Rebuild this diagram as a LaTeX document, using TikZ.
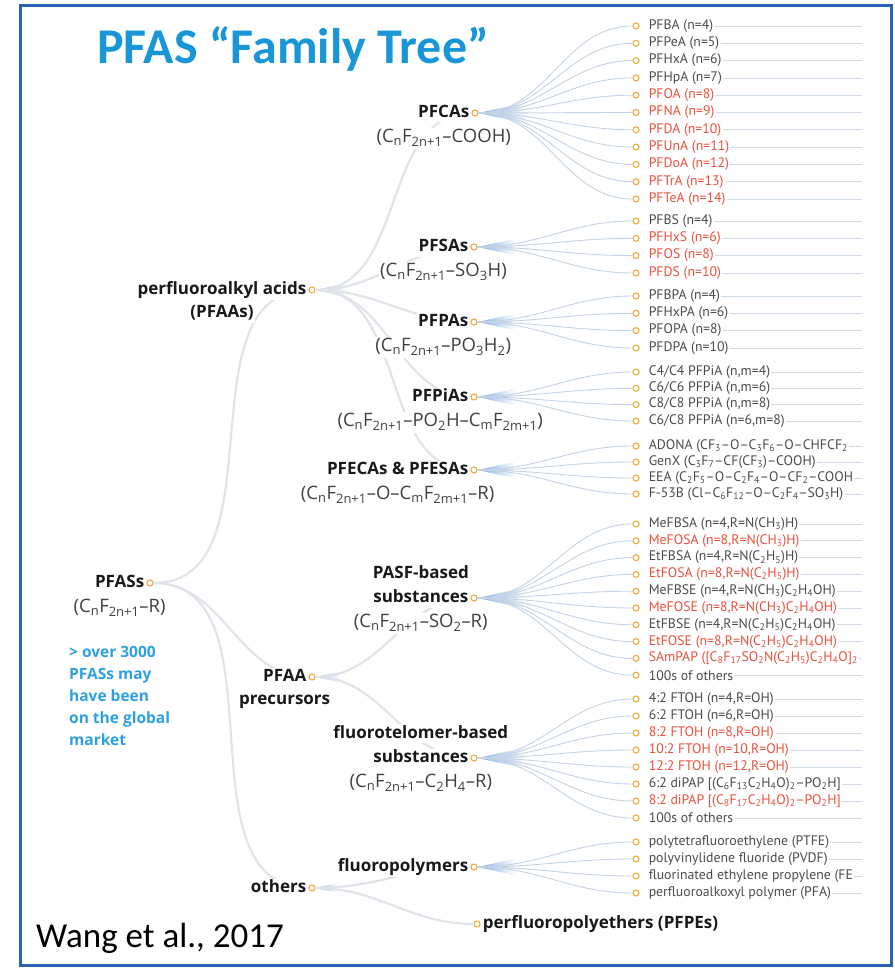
\documentclass[tikz,border=0pt]{standalone}
\usepackage{fontspec}
\setmainfont{PT Sans}
\newfontfamily\calibrifont{Carlito}
\newfontfamily\catfont[Ligatures=TeX]{Open Sans}
\usetikzlibrary{positioning}

\definecolor{titleblue}{RGB}{25,150,215}
\definecolor{frameblue}{RGB}{40,100,180}
\definecolor{blurbblue}{RGB}{45,160,225}
\definecolor{hotred}{RGB}{232,80,60}
\definecolor{leafgrey}{RGB}{75,75,75}
\definecolor{ringorange}{RGB}{240,170,60}
\definecolor{twigblue}{RGB}{195,210,228}
\definecolor{trunkgrey}{RGB}{224,228,234}
\definecolor{fanblue}{RGB}{125,172,228}
\newcommand{\sbs}[1]{\textsubscript{#1}}
\newcommand{\fan}[2]{\shade[left color=fanblue,right color=white] (#1.east) -- ++(#2,-0.22*#2) -- ++(0,0.44*#2) -- cycle;}

\tikzset{
  ring/.style={circle,draw=ringorange,fill=white,line width=1.1pt,inner sep=0pt,minimum size=6pt},
  cat/.style={font=\catfont\bfseries\fontsize{17}{20}\selectfont,text=black!90,fill=white,inner sep=1pt,text height=13pt,text depth=4pt},
  formula/.style={font=\catfont\fontsize{18.5}{22}\selectfont,text=black!75,fill=white,inner sep=1pt,text height=14pt,text depth=5pt},
  leaf/.style={font=\fontsize{13.8}{16}\selectfont,inner sep=1pt,anchor=west},
  blurb/.style={font=\catfont\bfseries\fontsize{15.5}{22}\selectfont,text=blurbblue,align=left,inner sep=0pt},
  twig/.style={draw=twigblue,line width=0.9pt},
  trunk/.style={draw=trunkgrey,line width=2.2pt},
  tail/.style={draw=twigblue!80,line width=0.7pt},
}

\begin{document}
\begin{tikzpicture}[x=1pt,y=-1pt]
  \useasboundingbox (0,0) rectangle (894,968);
  \node[font=\calibrifont\bfseries\fontsize{50}{58}\selectfont,text=titleblue,inner sep=0pt,anchor=base west] (title) at (97,64) {PFAS “Family Tree”};

  % hubs of the tree
  \node[ring] (pfass) at (150,583) {};
  \node[ring] (pfaas) at (312,290) {};
  \node[ring] (pfaa) at (312,677) {};
  \node[ring] (others) at (312,888) {};
  \node[ring] (pfcas) at (475,113) {};
  \node[ring] (pfsas) at (474,247) {};
  \node[ring] (pfpas) at (474,322) {};
  \node[ring] (pfpias) at (474,397) {};
  \node[ring] (pfecas) at (474,470) {};
  \node[ring] (pasf) at (474,598) {};
  \node[ring] (ftoh) at (474,758) {};
  \node[ring] (fpoly) at (474,867) {};
  \node[ring] (pfpes) at (477,924) {};

  \fan{pfcas}{48} \fan{pfsas}{38} \fan{pfpas}{38} \fan{pfpias}{38} \fan{pfecas}{38}
  \fan{pasf}{48} \fan{ftoh}{48} \fan{fpoly}{38} \fan{pfaas}{30} \fan{pfaa}{24} \fan{others}{22}

  \foreach \a/\b in {pfass/pfaas,pfass/pfaa,pfass/others,pfaas/pfcas,pfaas/pfsas,pfaas/pfpas,
      pfaas/pfpias,pfaas/pfecas,pfaa/pasf,pfaa/ftoh,others/fpoly,others/pfpes}
    \draw[trunk] (\a) to[out=0,in=180] (\b);

  % leaves
  \begin{scope}
    \clip (0,0) rectangle (862,968);
    \foreach \p/\y/\c/\t [count=\i] in {
      pfcas/26/leafgrey/{PFBA (n=4)}, pfcas/43.3/leafgrey/{PFPeA (n=5)},
      pfcas/60.6/leafgrey/{PFHxA (n=6)}, pfcas/77.9/leafgrey/{PFHpA (n=7)},
      pfcas/95.2/hotred/{PFOA (n=8)}, pfcas/112.5/hotred/{PFNA (n=9)},
      pfcas/129.8/hotred/{PFDA (n=10)}, pfcas/147.1/hotred/{PFUnA (n=11)},
      pfcas/164.4/hotred/{PFDoA (n=12)}, pfcas/181.7/hotred/{PFTrA (n=13)},
      pfcas/199/hotred/{PFTeA (n=14)},
      pfsas/221/leafgrey/{PFBS (n=4)}, pfsas/238.3/hotred/{PFHxS (n=6)},
      pfsas/255.6/hotred/{PFOS (n=8)}, pfsas/273/hotred/{PFDS (n=10)},
      pfpas/296/leafgrey/{PFBPA (n=4)}, pfpas/313.3/leafgrey/{PFHxPA (n=6)},
      pfpas/330.6/leafgrey/{PFOPA (n=8)}, pfpas/348/leafgrey/{PFDPA (n=10)},
      pfpias/372/leafgrey/{C4/C4 PFPiA (n,m=4)}, pfpias/388.3/leafgrey/{C6/C6 PFPiA (n,m=6)},
      pfpias/404.6/leafgrey/{C8/C8 PFPiA (n,m=8)}, pfpias/421/leafgrey/{C6/C8 PFPiA (n=6,m=8)},
      pfecas/446/leafgrey/{ADONA (CF\sbs{3}--O--C\sbs{3}F\sbs{6}--O--CHFCF\sbs{2}},
      pfecas/462/leafgrey/{GenX (C\sbs{3}F\sbs{7}--CF(CF\sbs{3})--COOH)},
      pfecas/478/leafgrey/{EEA (C\sbs{2}F\sbs{5}--O--C\sbs{2}F\sbs{4}--O--CF\sbs{2}--COOH},
      pfecas/494/leafgrey/{F-53B (Cl--C\sbs{6}F\sbs{12}--O--C\sbs{2}F\sbs{4}--SO\sbs{3}H)},
      pasf/524/leafgrey/{MeFBSA (n=4,R=N(CH\sbs{3})H)},
      pasf/540.8/hotred/{MeFOSA (n=8,R=N(CH\sbs{3})H)},
      pasf/557.6/leafgrey/{EtFBSA (n=4,R=N(C\sbs{2}H\sbs{5})H)},
      pasf/574.4/hotred/{EtFOSA (n=8,R=N(C\sbs{2}H\sbs{5})H)},
      pasf/591.2/leafgrey/{MeFBSE (n=4,R=N(CH\sbs{3})C\sbs{2}H\sbs{4}OH)},
      pasf/608/hotred/{MeFOSE (n=8,R=N(CH\sbs{3})C\sbs{2}H\sbs{4}OH)},
      pasf/624.8/leafgrey/{EtFBSE (n=4,R=N(C\sbs{2}H\sbs{5})C\sbs{2}H\sbs{4}OH)},
      pasf/641.6/hotred/{EtFOSE (n=8,R=N(C\sbs{2}H\sbs{5})C\sbs{2}H\sbs{4}OH)},
      pasf/658.4/hotred/{SAmPAP ([C\sbs{8}F\sbs{17}SO\sbs{2}N(C\sbs{2}H\sbs{5})C\sbs{2}H\sbs{4}O]\sbs{2}},
      pasf/675.2/leafgrey/{100s of others},
      ftoh/699/leafgrey/{4:2 FTOH (n=4,R=OH)}, ftoh/716/leafgrey/{6:2 FTOH (n=6,R=OH)},
      ftoh/733/hotred/{8:2 FTOH (n=8,R=OH)}, ftoh/750/hotred/{10:2 FTOH (n=10,R=OH)},
      ftoh/767/hotred/{12:2 FTOH (n=12,R=OH)},
      ftoh/784/leafgrey/{6:2 diPAP [(C\sbs{6}F\sbs{13}C\sbs{2}H\sbs{4}O)\sbs{2}--PO\sbs{2}H]},
      ftoh/801/hotred/{8:2 diPAP [(C\sbs{8}F\sbs{17}C\sbs{2}H\sbs{4}O)\sbs{2}--PO\sbs{2}H]},
      ftoh/818/leafgrey/{100s of others},
      fpoly/842/leafgrey/{polytetrafluoroethylene (PTFE)}, fpoly/859/leafgrey/{polyvinylidene fluoride (PVDF)},
      fpoly/876/leafgrey/{fluorinated ethylene propylene (FE}, fpoly/893/leafgrey/{perfluoroalkoxyl polymer (PFA)}
    }{
      \node[ring] (leaf\i) at (636,\y) {};
      \coordinate (end\i) at (862,\y);
      \draw[twig] (\p) to[out=0,in=180] (leaf\i);
      \node[leaf,text=\c,right=8pt of leaf\i] (txt\i) {\t};
      \draw[tail] (txt\i) -- (end\i);
    }
  \end{scope}

  % labels of the hubs
  \node[cat,left=1pt of pfass] (pfass-t) {PFASs};
  \node[formula,below=5pt of pfass-t] (pfass-f) {(C\sbs{n}F\sbs{2n+1}--R)};
  \node[blurb,anchor=north west] (blurb) at (69,646) {> over 3000\\PFASs may\\have been\\on the global\\market};
  \node[cat,left=1pt of pfaas] (pfaas-t) {perfluoroalkyl acids};
  \node[cat,below=4pt of pfaas-t] (pfaas-t2) {(PFAAs)};
  \node[cat,left=1pt of pfaa] (pfaa-t) {PFAA};
  \node[cat,below=4pt of pfaa-t] (pfaa-t2) {precursors};
  \node[cat,left=1pt of others] (others-t) {others};
  \node[cat,left=1pt of pfcas] (pfcas-t) {PFCAs};
  \node[formula,below=5pt of pfcas-t] (pfcas-f) {(C\sbs{n}F\sbs{2n+1}--COOH)};
  \node[cat,left=1pt of pfsas] (pfsas-t) {PFSAs};
  \node[formula,below=5pt of pfsas-t] (pfsas-f) {(C\sbs{n}F\sbs{2n+1}--SO\sbs{3}H)};
  \node[cat,left=1pt of pfpas] (pfpas-t) {PFPAs};
  \node[formula,below=5pt of pfpas-t] (pfpas-f) {(C\sbs{n}F\sbs{2n+1}--PO\sbs{3}H\sbs{2})};
  \node[cat,left=1pt of pfpias] (pfpias-t) {PFPiAs};
  \node[formula,below=5pt of pfpias-t] (pfpias-f) {(C\sbs{n}F\sbs{2n+1}--PO\sbs{2}H--C\sbs{m}F\sbs{2m+1})};
  \node[cat,left=1pt of pfecas] (pfecas-t) {PFECAs \& PFESAs};
  \node[formula,below=5pt of pfecas-t] (pfecas-f) {(C\sbs{n}F\sbs{2n+1}--O--C\sbs{m}F\sbs{2m+1}--R)};
  \node[cat,left=1pt of pasf] (pasf-t) {substances};
  \node[cat,above=5pt of pasf-t] (pasf-t2) {PASF-based};
  \node[formula,below=5pt of pasf-t] (pasf-f) {(C\sbs{n}F\sbs{2n+1}--SO\sbs{2}--R)};
  \node[cat,left=1pt of ftoh] (ftoh-t) {substances};
  \node[cat,above=5pt of ftoh-t] (ftoh-t2) {fluorotelomer-based};
  \node[formula,below=5pt of ftoh-t] (ftoh-f) {(C\sbs{n}F\sbs{2n+1}--C\sbs{2}H\sbs{4}--R)};
  \node[cat,left=1pt of fpoly] (fpoly-t) {fluoropolymers};
  \node[cat,right=1pt of pfpes] (pfpes-t) {perfluoropolyethers (PFPEs)};

  \node[font=\calibrifont\fontsize{35}{40}\selectfont,inner sep=0pt,anchor=base west] (cite) at (36,947) {Wang et al., 2017};
  \draw[frameblue,line width=3pt] (20,6) rectangle (891,965);
\end{tikzpicture}
\end{document}
